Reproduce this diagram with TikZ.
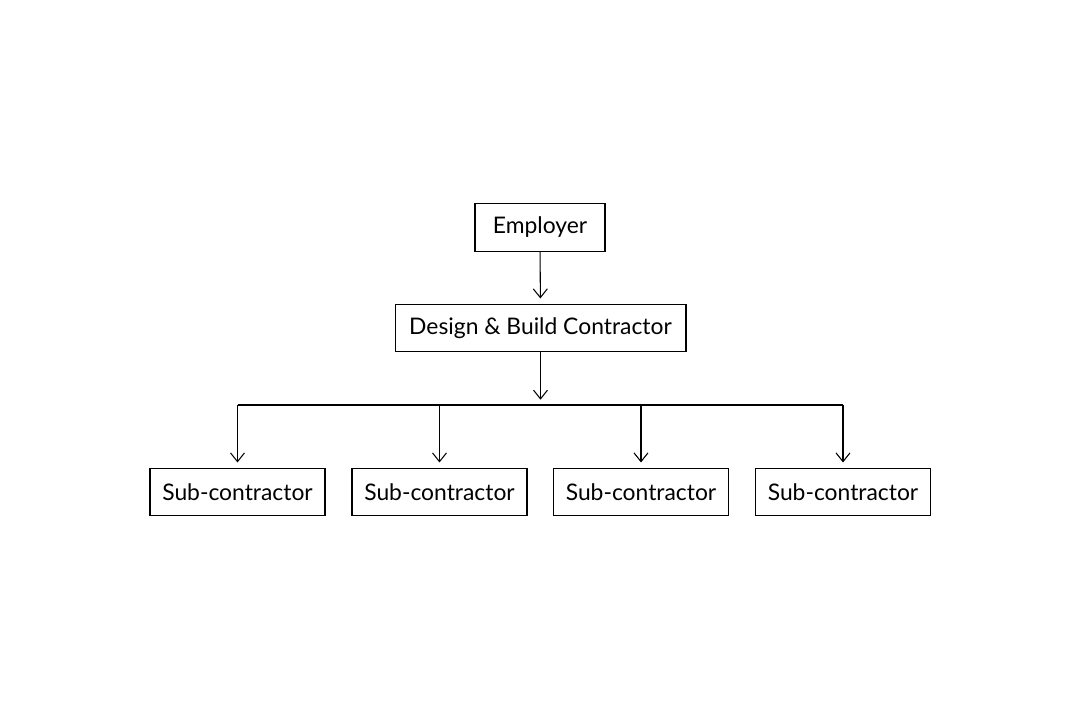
\documentclass[tikz,border=0pt]{standalone}
\usepackage{fontspec}
\setmainfont{Lato}
\usetikzlibrary{positioning, arrows.meta}

\tikzset{
    box/.style={draw, line width=0.6pt, minimum height=0.95cm, inner sep=0pt, font=\fontsize{13}{15}\selectfont},
    link/.style={line width=0.6pt, -{Straight Barb[length=5pt, width=8pt]}, shorten >=3pt}
}

\begin{document}
\begin{tikzpicture}[x=0.02cm, y=-0.02cm]
            \useasboundingbox (0,0) rectangle (1080,721);

            \node[box, minimum width=2.6cm] (employer) at (540,227.5) {Employer};
            \node[box, minimum width=5.82cm] (dbc) at (540.5,328) {Design \& Build Contractor};

            % sub-contractors
            \foreach \i/\x in {1/237.5, 2/439.5, 3/641, 4/843} {
                \node[box, minimum width=3.5cm] (sub\i) at (\x,492) {Sub-contractor};
                \coordinate (bus\i) at (\x,405);
            }
            \coordinate (busmid) at (540.5,405);

            \draw[link] (employer) -- (dbc);
            \draw[link] (dbc) -- (busmid);
            \draw[line width=0.6pt] (bus1) -- (bus4);
            \foreach \i in {1,...,4} {
                \draw[link] (bus\i) -- (sub\i);
            }
        \end{tikzpicture}
\end{document}
